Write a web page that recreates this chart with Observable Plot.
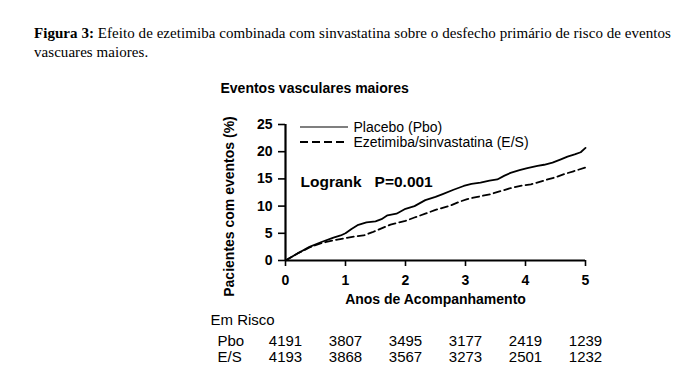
<!DOCTYPE html>
<html>
<head>
<meta charset="utf-8">
<script src="https://cdn.jsdelivr.net/npm/d3@7"></script>
<script src="https://cdn.jsdelivr.net/npm/@observablehq/plot@0.6"></script>
<style>
  html, body { margin: 0; padding: 0; background: #fff; }
  body { width: 696px; height: 388px; position: relative; overflow: hidden; }
  #cap { position: absolute; left: 34px; top: 24px; font-family: "Liberation Serif", "Times New Roman", serif; font-size: 15px; letter-spacing: 0.05px; line-height: 19px; color: #000; white-space: nowrap; }
  #chart { position: absolute; left: 0; top: 65px; }
  #legend { position: absolute; left: 0; top: 0; }
  svg { display: block; }
</style>
</head>
<body>
<div id="cap"><b>Figura 3:</b> Efeito de ezetimiba combinada com sinvastatina sobre o desfecho primário de risco de eventos<br>vascuares maiores.</div>
<div id="chart"></div>
<div id="legend"></div>
<script>
// ---- data ----
const xTicks = [0, 1, 2, 3, 4, 5];
const yTicks = [0, 5, 10, 15, 20, 25];

const placeboYears = [0, 0.2, 0.4, 0.6, 0.8, 0.92, 1.0, 1.1, 1.2, 1.35, 1.5, 1.6, 1.7, 1.85, 2.0, 2.15, 2.33, 2.5, 2.62, 2.8, 2.97, 3.1, 3.25, 3.4, 3.53, 3.65, 3.75, 3.9, 4.03, 4.2, 4.31, 4.45, 4.59, 4.7, 4.82, 4.92, 5.0];
const placeboPct   = [0, 1.3, 2.5, 3.4, 4.2, 4.6, 5.0, 5.8, 6.5, 7.0, 7.2, 7.6, 8.3, 8.6, 9.5, 10.0, 11.1, 11.7, 12.2, 13.0, 13.7, 14.1, 14.3, 14.7, 14.9, 15.6, 16.1, 16.6, 17.0, 17.4, 17.6, 18.0, 18.6, 19.1, 19.5, 19.9, 20.7];

const esYears = [0, 0.2, 0.4, 0.6, 0.8, 1.0, 1.15, 1.3, 1.45, 1.6, 1.75, 2.0, 2.15, 2.33, 2.5, 2.75, 2.9, 3.03, 3.2, 3.42, 3.6, 3.75, 3.95, 4.09, 4.25, 4.37, 4.5, 4.65, 4.8, 5.0];
const esPct   = [0, 1.3, 2.4, 3.2, 3.7, 4.1, 4.4, 4.6, 5.2, 5.9, 6.6, 7.3, 7.9, 8.6, 9.3, 10.1, 10.8, 11.3, 11.7, 12.2, 12.8, 13.3, 13.8, 14.0, 14.5, 14.9, 15.3, 15.9, 16.4, 17.1];

const atRiskYears = [0, 1, 2, 3, 4, 5];
const pboAtRisk = [4191, 3807, 3495, 3177, 2419, 1239];
const esAtRisk  = [4193, 3868, 3567, 3273, 2501, 1232];

const seriesNames = ["Placebo (Pbo)", "Ezetimiba/sinvastatina (E/S)"];

// ---- tables built from the arrays ----
const placebo = placeboYears.map((x, i) => ({x, y: placeboPct[i]}));
const es = esYears.map((x, i) => ({x, y: esPct[i]}));
const pboRisk = atRiskYears.map((x, i) => ({x, n: String(pboAtRisk[i])}));
const esRisk = atRiskYears.map((x, i) => ({x, n: String(esAtRisk[i])}));

const FONT = '"Liberation Sans", Arial, Helvetica, sans-serif';
const T = {lineAnchor: "middle"};

const chart = Plot.plot({
  width: 696,
  height: 323,
  marginLeft: 285,
  marginRight: 111,
  marginTop: 59,
  marginBottom: 128,
  style: {fontFamily: FONT, background: "transparent", color: "#000", overflow: "visible"},
  x: {domain: [0, 5]},
  y: {domain: [0, 25]},
  marks: [
    Plot.axisX({ticks: xTicks, tickSize: 6, tickPadding: 9, tickFormat: d3.format("d"), fontSize: 14, fontWeight: "bold", strokeWidth: 1.6, label: null}),
    Plot.axisY({ticks: yTicks, tickSize: 7, tickPadding: 6, tickFormat: d3.format("d"), fontSize: 14, fontWeight: "bold", strokeWidth: 1.6, label: null}),
    Plot.ruleY([0], {strokeWidth: 2.2, stroke: "#000"}),
    Plot.ruleX([0], {strokeWidth: 2.2, stroke: "#000"}),
    Plot.line(es, {x: "x", y: "y", stroke: "#000", strokeWidth: 1.8, strokeDasharray: "7,4"}),
    Plot.line(placebo, {x: "x", y: "y", stroke: "#000", strokeWidth: 1.8}),
    Plot.text(["Eventos vasculares maiores"], {...T, frameAnchor: "top-left", dx: -65, dy: -36, textAnchor: "start", fontSize: 14, fontWeight: "bold"}),
    Plot.text(["Pacientes com eventos (%)"], {...T, frameAnchor: "left", rotate: -90, textAnchor: "middle", dx: -56, dy: 14, fontSize: 14, fontWeight: "bold"}),
    Plot.text(["Anos de Acompanhamento"], {...T, frameAnchor: "bottom", dy: 39, fontSize: 14, fontWeight: "bold"}),
    Plot.text(["Logrank\u00a0\u00a0\u00a0P=0.001"], {...T, frameAnchor: "top-left", dx: 15, dy: 58, textAnchor: "start", fontSize: 15.5, fontWeight: "bold"}),
    Plot.text([seriesNames[0]], {...T, frameAnchor: "top-left", dx: 68, dy: 3, textAnchor: "start", fontSize: 14}),
    Plot.text([seriesNames[1]], {...T, frameAnchor: "top-left", dx: 68, dy: 18, textAnchor: "start", fontSize: 14}),
    Plot.text(["Em Risco"], {...T, frameAnchor: "bottom-left", dx: -75, dy: 60, textAnchor: "start", fontSize: 15}),
    Plot.text(["Pbo"], {...T, frameAnchor: "bottom-left", dx: -68, dy: 81, textAnchor: "start", fontSize: 15}),
    Plot.text(["E/S"], {...T, frameAnchor: "bottom-left", dx: -68, dy: 97, textAnchor: "start", fontSize: 15}),
    Plot.text(pboRisk, {...T, x: "x", text: "n", frameAnchor: "bottom", dy: 81, fontSize: 15}),
    Plot.text(esRisk, {...T, x: "x", text: "n", frameAnchor: "bottom", dy: 97, fontSize: 15})
  ]
});
document.getElementById("chart").appendChild(chart);

// legend line samples (drawn next to the in-plot legend labels)
const leg = d3.select("#legend").append("svg").attr("width", 696).attr("height", 200);
leg.append("line").attr("x1", 300).attr("x2", 348).attr("y1", 127).attr("y2", 127).attr("stroke", "#000").attr("stroke-width", 1.2);
leg.append("line").attr("x1", 300).attr("x2", 348).attr("y1", 142).attr("y2", 142).attr("stroke", "#000").attr("stroke-width", 1.8).attr("stroke-dasharray", "8,4");
</script>
</body>
</html>
